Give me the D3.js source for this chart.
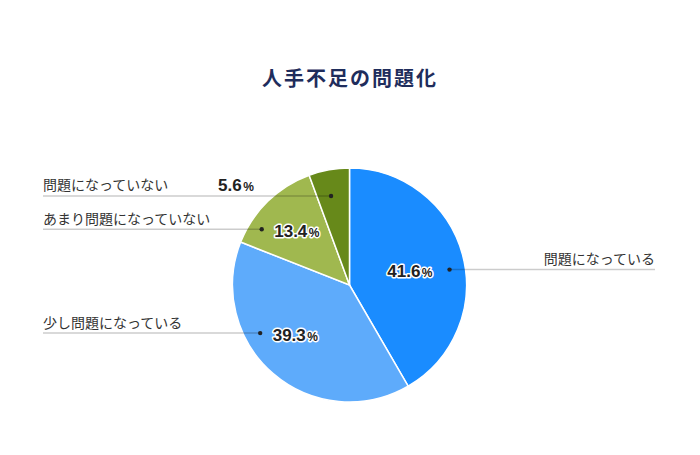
<!DOCTYPE html>
<html><head><meta charset="utf-8">
<script src="https://cdn.jsdelivr.net/npm/d3@7"></script>
<style>
html,body{margin:0;padding:0;background:#fff;}
svg{display:block;}
</style></head>
<body>
<svg id="chart" width="700" height="455"></svg>
<script>
// ---- data ----
const title = "人手不足の問題化";
const categories = ["問題になっている", "少し問題になっている", "あまり問題になっていない", "問題になっていない"];
const values = [41.6, 39.3, 13.4, 5.6];
const colors = ["#1a8cff", "#5eabfb", "#a0b84f", "#67891a"];

// ---- layout (annotation geometry) ----
const cx = 349.5, cy = 285, R = 117;
const dotAngleFrac = [0.542, 0.648, 0.226, 0.42];
const dotRadiusFrac = [0.865, 0.867, 0.889, 0.777];
const leftX = 43, rightX = 655;

const svg = d3.select("#chart");
const jp = "'Noto Sans CJK JP','Noto Sans',sans-serif";

svg.append("text")
  .attr("x", 350).attr("y", 86)
  .attr("text-anchor", "middle")
  .attr("font-family", jp).attr("font-weight", 700)
  .attr("font-size", 20).attr("letter-spacing", 2)
  .attr("fill", "#1f2d5c")
  .text(title);

const pie = d3.pie().sort(null).value(d => d);
const arcs = pie(values);
const arc = d3.arc().innerRadius(0).outerRadius(R);

const g = svg.append("g").attr("transform", `translate(${cx},${cy})`);
g.selectAll("path.slice").data(arcs).join("path")
  .attr("class", "slice")
  .attr("d", arc)
  .attr("fill", (d, i) => colors[i])
  .attr("stroke", "#fff").attr("stroke-width", 1.5);

// dot positions derived from slice angles
const dots = arcs.map((a, i) => {
  const th = a.startAngle + (a.endAngle - a.startAngle) * dotAngleFrac[i];
  const r = R * dotRadiusFrac[i];
  return { x: cx + r * Math.sin(th), y: cy - r * Math.cos(th), right: Math.sin(th) > 0 };
});

const ann = svg.append("g");
dots.forEach((p, i) => {
  const x1 = p.right ? p.x : leftX;
  const x2 = p.right ? rightX : p.x;
  ann.append("line")
    .attr("x1", x1).attr("x2", x2).attr("y1", p.y).attr("y2", p.y)
    .attr("stroke", "rgba(0,0,0,0.2)").attr("stroke-width", 1.5);
  ann.append("circle").attr("cx", p.x).attr("cy", p.y).attr("r", 2.2).attr("fill", "#222");
  ann.append("text")
    .attr("x", p.right ? rightX : leftX)
    .attr("y", p.y - 5.5)
    .attr("text-anchor", p.right ? "end" : "start")
    .attr("font-family", jp).attr("font-size", 14)
    .attr("fill", "#333")
    .text(categories[i]);

  // value label
  let tx, ty, anchor;
  if (i === 0) { tx = p.x - 17; ty = p.y + 7.5; anchor = "end"; }
  else if (i === 3) { tx = 218; ty = p.y - 4.5; anchor = "start"; }
  else { tx = p.x + 12.5; ty = p.y + 7.5; anchor = "start"; }
  const t = ann.append("text")
    .attr("x", tx).attr("y", ty)
    .attr("text-anchor", anchor)
    .attr("font-family", "'Liberation Sans',Arial,sans-serif")
    .attr("font-weight", 700)
    .attr("fill", "#222")
    .attr("stroke", i === 3 ? "none" : "#fff")
    .attr("stroke-width", 3).attr("stroke-linejoin", "round")
    .attr("paint-order", "stroke");
  t.append("tspan").attr("font-size", 17).text(values[i].toFixed(1));
  t.append("tspan").attr("font-size", 12).attr("dx", 1.5).text("%");
});
</script>
</body></html>
